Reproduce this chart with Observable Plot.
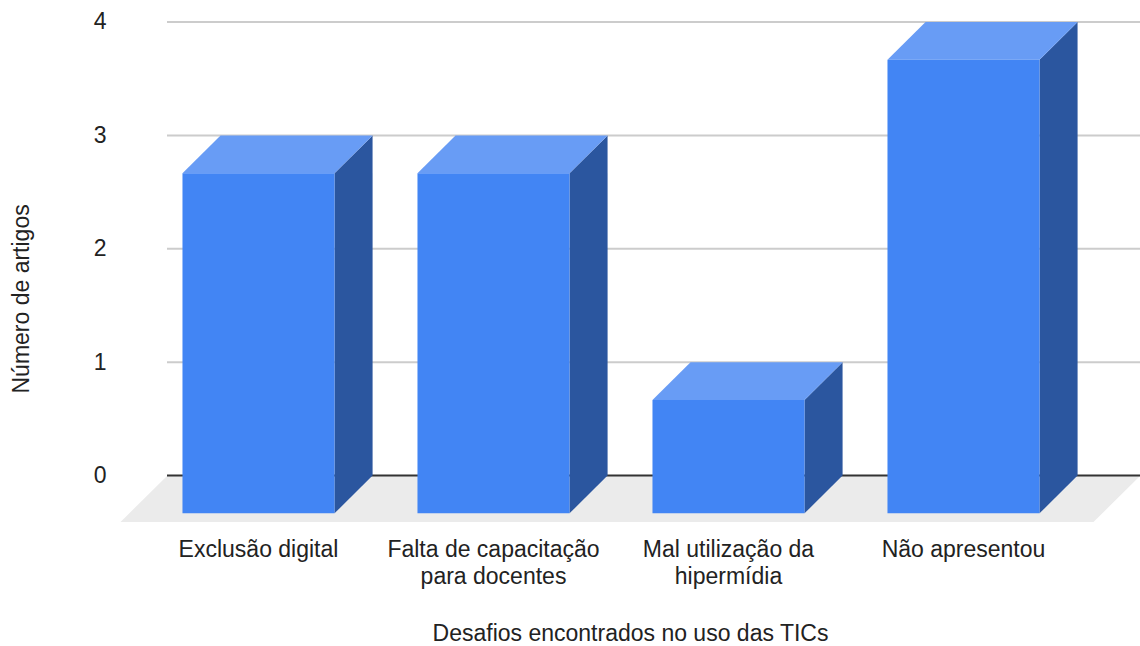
<!DOCTYPE html>
<html lang="pt">
<head>
<meta charset="utf-8">
<script src="https://cdn.jsdelivr.net/npm/d3@7"></script>
<script src="https://cdn.jsdelivr.net/npm/@observablehq/plot@0.6"></script>
<style>
  html, body { margin: 0; padding: 0; background: #fff; }
  svg { display: block; }
</style>
</head>
<body>
<div id="chart"></div>
<script>
// Categories and article counts
const categories = [
  "Exclusão digital",
  "Falta de capacitação\npara docentes",
  "Mal utilização da\nhipermídia",
  "Não apresentou"
];
const counts = [3, 3, 1, 4];
const yTicks = [0, 1, 2, 3, 4];
const xTitle = "Desafios encontrados no uso das TICs";
const yTitle = "Número de artigos";

// Pseudo-3D proportions, in scale units
const barWidth = 0.647;
const depthX = 0.162;
const depthY = 0.334;
const floorPad = 0.2;
const floorDrop = 0.41;
const textSize = 23;

// One closed outline per face: front, side and top of every bar
const faces = (make) => counts.flatMap((v, i) => make(v, i).map(([x, y]) => ({x, y, id: i})));
const front = faces((v, i) => {
  const l = i - barWidth / 2, r = i + barWidth / 2;
  return [[l, -depthY], [r, -depthY], [r, v - depthY], [l, v - depthY]];
});
const side = faces((v, i) => {
  const r = i + barWidth / 2;
  return [[r, -depthY], [r + depthX, 0], [r + depthX, v], [r, v - depthY]];
});
const top3d = faces((v, i) => {
  const l = i - barWidth / 2, r = i + barWidth / 2;
  return [[l, v - depthY], [r, v - depthY], [r + depthX, v], [l + depthX, v]];
});

// Scale mapping: category index to pixels, count to pixels
const xDomain = [-258 / 235, (1140 - 258) / 235];
const floorLeft = (167 - 258) / 235;
const floorRight = xDomain[1];
const floor = [
  {x: floorLeft, y: 0},
  {x: floorRight, y: 0},
  {x: floorRight - floorPad, y: -floorDrop},
  {x: floorLeft - floorPad, y: -floorDrop}
];

const solid = (data, fill) => Plot.line(data, {x: "x", y: "y", z: "id", fill, stroke: "none", curve: "linear"});

const chart = Plot.plot({
  width: 1140,
  height: 646,
  marginLeft: 0,
  marginRight: 0,
  marginTop: 21,
  marginBottom: 646 - 523,
  style: {fontFamily: "'Liberation Sans', Arial, sans-serif", fontSize: textSize + "px", color: "#222", background: "#fff", overflow: "visible"},
  x: {domain: xDomain, range: [0, 1140], axis: null},
  y: {domain: [0, 4], range: [475, 21.5], axis: null},
  marks: [
    solid(floor, "#ebebeb"),
    Plot.ruleY(yTicks.filter((d) => d > 0), {x1: floorLeft, x2: floorRight, stroke: "#cccccc", strokeWidth: 2}),
    Plot.ruleY([0], {x1: floorLeft, x2: floorRight, stroke: "#333333", strokeWidth: 2}),
    solid(side, "#2b569f"),
    solid(top3d, "#689cf5"),
    solid(front, "#4285f4"),
    Plot.axisY(yTicks, {
      anchor: "left",
      x: floorLeft,
      tickSize: 0,
      dx: -52,
      dy: 0,
      textAnchor: "end",
      tickFormat: (d) => String(d),
      label: null,
      fontSize: textSize,
      fill: "#222"
    }),
    Plot.axisX(d3.range(categories.length), {
      anchor: "bottom",
      tickSize: 0,
      tickPadding: 15,
      tickFormat: (i) => categories[i],
      lineWidth: 30,
      lineHeight: 1.15,
      label: null,
      fontSize: textSize,
      fill: "#222"
    }),
    Plot.text([xTitle], {
      frameAnchor: "bottom",
      dx: 60,
      dy: 117,
      text: (d) => d,
      fontSize: textSize,
      fill: "#222"
    }),
    Plot.text([yTitle], {
      frameAnchor: "left",
      dx: 21,
      dy: 121,
      rotate: -90,
      text: (d) => d,
      fontSize: textSize,
      fill: "#222"
    })
  ]
});

document.getElementById("chart").append(chart);
</script>
</body>
</html>
